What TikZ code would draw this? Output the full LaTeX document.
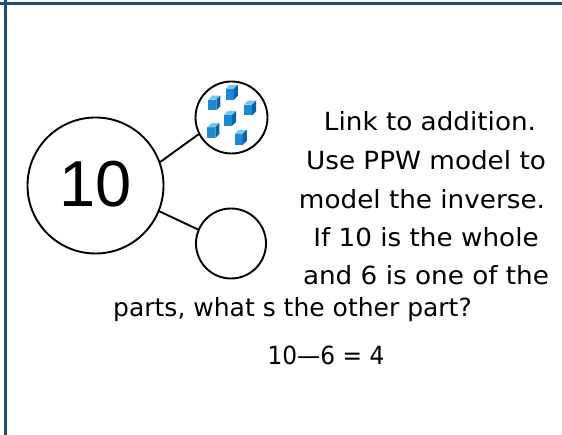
\documentclass[tikz,border=0pt]{standalone}
\usepackage{fontspec}
\setmainfont{DejaVu Sans}
\newfontfamily\widefont[FakeStretch=1.05]{DejaVu Sans}
\newfontfamily\narrowfont[FakeStretch=0.93]{DejaVu Sans}
\newfontfamily\numfont{Liberation Sans}
\definecolor{frameblue}{RGB}{31,78,121}
\definecolor{cubetop}{RGB}{110,200,240}
\definecolor{cubefront}{RGB}{25,140,215}
\definecolor{cubeside}{RGB}{15,95,170}
\begin{document}
\begin{tikzpicture}[x=1pt,y=-1pt,
  ring/.style={circle,draw=black,line width=1.9pt,inner sep=0pt},
  link/.style={draw=black,line width=1.9pt},
  frame/.style={draw=frameblue,line width=3pt},
  prose/.style={anchor=base,inner sep=0pt,font=\fontsize{25}{38.5}\widefont},
  plain/.style={anchor=base,inner sep=0pt,font=\fontsize{25}{38.5}\selectfont},
  sum/.style={anchor=base,inner sep=0pt,font=\fontsize{25}{38.5}\narrowfont},
  cube/.pic={
    \begin{scope}[scale=1.35]
    \fill[cubefront] (-4.5,-2) rectangle (1.5,6);
    \fill[cubetop] (-4.5,-2) -- (-1.5,-5) -- (4.5,-5) -- (1.5,-2) -- cycle;
    \fill[cubeside] (1.5,-2) -- (4.5,-5) -- (4.5,3) -- (1.5,6) -- cycle;
    \end{scope}
  }]
\useasboundingbox (0,0) rectangle (562,435);
\fill[white] (0,0) rectangle (562,435);
% frame edges
\draw[frame] (0,3.5) -- (562,3.5);
\draw[frame] (5.2,0) -- (5.2,435);
% part-part-whole model
\node[ring,minimum size=136pt] (whole) at (95.5,185.5) {};
\node[font=\fontsize{65}{65}\selectfont\numfont] (ten) at (95.5,184) {10};
\node[ring,minimum size=72pt] (partA) at (231.5,117.5) {};
\node[ring,minimum size=70pt] (partB) at (231,243.5) {};
\draw[link] (whole.20) -- (partA.207);
\draw[link] (whole.-22) -- (partB.157);
% six cubes in the first part
\foreach \cx/\cy in {231.7/91.7, 214.3/102.3, 250/107.3, 230/117.7, 213.3/130, 240.7/136.7}
  \pic at (\cx,\cy) {cube};
% explanation
\node[prose] (l1) at (430,131) {Link to addition.};
\node[prose] (l2) at (426,170) {Use PPW model to};
\node[prose] (l3) at (422,208.3) {model the inverse.};
\node[prose] (l4) at (426,246.7) {If 10 is the whole};
\node[prose] (l5) at (426,285) {and 6 is one of the};
\node[plain] (l6) at (292.5,316.7) {parts, what s the other part?};
\node[sum] (l7) at (326,364) {10—6 = 4};
\end{tikzpicture}
\end{document}
